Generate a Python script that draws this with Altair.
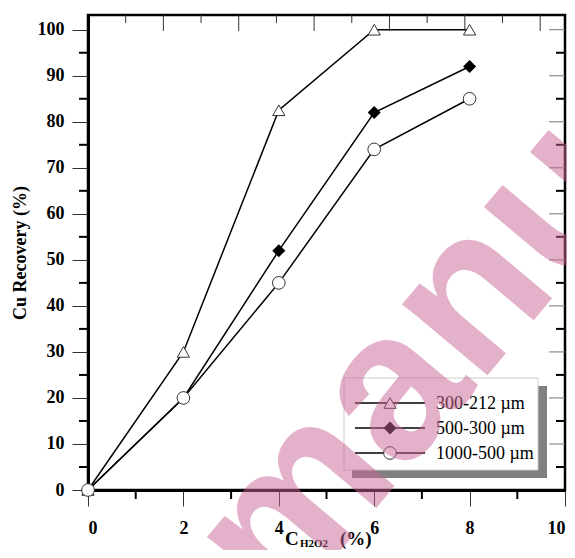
import altair as alt
import pandas as pd

# ---- data ----
x_vals = [0, 2, 4, 6, 8]
rec_300_212 = [0, 30, 82.5, 100, 100]
rec_500_300 = [0, 20, 52, 82, 92]
rec_1000_500 = [0, 20, 45, 74, 85]
series_names = ["300-212 \u00b5m", "500-300 \u00b5m", "1000-500 \u00b5m"]

y_major = [0, 10, 20, 30, 40, 50, 60, 70, 80, 90, 100]
y_minor = [5, 15, 25, 35, 45, 55, 65, 75, 85, 95]
y_right_major = [10, 20, 30, 40, 50, 60, 70, 80, 90, 100]
x_major = [0, 2, 4, 6, 8, 10]
x_minor = [1, 3, 5, 7, 9]
top_short = [0.79, 2.37, 3.95, 5.53, 7.11, 8.69]
top_long = [1.58, 3.16, 4.74, 6.32, 7.90, 9.48]

W, H = 477, 475
SERIF = "Liberation Serif"

rows = []
for name, vals in zip(series_names, [rec_300_212, rec_500_300, rec_1000_500]):
    for xv, yv in zip(x_vals, vals):
        rows.append({"x": xv, "y": yv, "series": name})
df = pd.DataFrame(rows)

xs = alt.Scale(domain=[0, 10], nice=False, zero=False)
ys = alt.Scale(domain=[0, 103.2], nice=False)

x_axis = alt.Axis(values=x_major, tickSize=16, tickColor="#333", tickWidth=1,
                  labelFont=SERIF, labelFontWeight="bold", labelFontSize=18,
                  labelColor="black", labelPadding=13, domainColor="black",
                  domainWidth=3, grid=False, title=None, format="d")
y_axis = alt.Axis(values=y_major, tickSize=16, tickColor="#333", tickWidth=1,
                  labelFont=SERIF, labelFontWeight="bold", labelFontSize=18,
                  labelColor="black", labelPadding=8, domainColor="black",
                  domainWidth=3, grid=False, title="Cu Recovery (%)",
                  titleFont=SERIF, titleFontWeight="bold", titleFontSize=18,
                  titleColor="black", titlePadding=8, format="d")

lines = alt.Chart(df).mark_line(color="black", strokeWidth=1.5).encode(
    x=alt.X("x:Q", scale=xs, axis=x_axis),
    y=alt.Y("y:Q", scale=ys, axis=y_axis),
    detail="series:N",
)

def pts(name, shape, size, filled):
    kw = dict(shape=shape, size=size, opacity=1, strokeWidth=1)
    if filled:
        kw.update(filled=True, color="black")
    else:
        kw.update(filled=True, fill="white", stroke="#333")
    return alt.Chart(df).transform_filter(alt.datum.series == name).mark_point(**kw).encode(
        x=alt.X("x:Q", scale=xs, axis=x_axis),
        y=alt.Y("y:Q", scale=ys, axis=y_axis),
    )

p1 = pts(series_names[0], "triangle-up", 150, False)
p2 = pts(series_names[1], "diamond", 170, True)
p3 = pts(series_names[2], "circle", 160, False)

def yticks(vals, x1, x2, color, width):
    return alt.Chart(pd.DataFrame({"y": vals})).mark_rule(color=color, strokeWidth=width).encode(
        y=alt.Y("y:Q", scale=ys, axis=y_axis), x=alt.value(x1), x2=alt.value(x2))

def xticks(vals, y1, y2, color, width):
    return alt.Chart(pd.DataFrame({"x": vals})).mark_rule(color=color, strokeWidth=width).encode(
        x=alt.X("x:Q", scale=xs, axis=x_axis), y=alt.value(y1), y2=alt.value(y2))

ticks = [
    yticks(y_minor, -9, 0, "black", 2),
    yticks(y_right_major, W - 16, W, "#777", 1),
    yticks(y_minor, W - 9, W, "black", 2),
    xticks(x_minor, H, H + 9, "black", 2),
    xticks(top_short, 0, 8, "#333", 1),
    xticks(top_long, 0, 16, "#333", 1),
]

one = pd.DataFrame({"a": [0]})

# x-axis title with subscript
xt = [
    alt.Chart(one).mark_text(text="C", font=SERIF, fontWeight="bold", fontSize=19,
                             align="left", baseline="alphabetic", color="black").encode(
        x=alt.value(197), y=alt.value(530)),
    alt.Chart(one).mark_text(text="H2O2", font=SERIF, fontWeight="bold", fontSize=11,
                             align="left", baseline="alphabetic", color="black").encode(
        x=alt.value(212), y=alt.value(532)),
    alt.Chart(one).mark_text(text="(%)", font=SERIF, fontWeight="bold", fontSize=19,
                             align="left", baseline="alphabetic", color="black").encode(
        x=alt.value(252), y=alt.value(530)),
]

# legend (custom, with drop shadow)
leg = [
    alt.Chart(one).mark_rect(color="#808080").encode(
        x=alt.value(264), x2=alt.value(459), y=alt.value(371), y2=alt.value(463)),
    alt.Chart(one).mark_rect(fill="white", stroke="#cccccc", strokeWidth=1).encode(
        x=alt.value(256), x2=alt.value(450), y=alt.value(363), y2=alt.value(455)),
]
leg_rows = [388, 413, 438]
leg_shapes = [("triangle-up", 150, False), ("diamond", 170, True), ("circle", 160, False)]
for name, ry, (shp, sz, fl) in zip(series_names, leg_rows, leg_shapes):
    leg.append(alt.Chart(one).mark_rule(color="black", strokeWidth=1.5).encode(
        x=alt.value(267), x2=alt.value(337), y=alt.value(ry)))
    kw = dict(shape=shp, size=sz, opacity=1, strokeWidth=1, filled=True)
    if fl:
        kw.update(color="black")
    else:
        kw.update(fill="white", stroke="#333")
    leg.append(alt.Chart(one).mark_point(**kw).encode(x=alt.value(302), y=alt.value(ry)))
    leg.append(alt.Chart(one).mark_text(text=name, font=SERIF, fontSize=18, align="left",
                                        baseline="middle", color="black").encode(
        x=alt.value(348), y=alt.value(ry + 1)))

# watermark
wm = alt.Chart(one).mark_text(text="manuscript", font="Liberation Sans", fontWeight="bold",
                              fontSize=210, angle=310, align="left", baseline="alphabetic",
                              color="#c96595", opacity=0.5).encode(
    x=alt.value(195), y=alt.value(604))

chart = alt.layer(lines, p1, p2, p3, *ticks, *xt, *leg, wm).properties(
    width=W, height=H,
    background="white",
    autosize=alt.AutoSizeParams(type="none"),
    padding={"left": 80, "top": 7, "right": 2, "bottom": 60},
).configure_view(stroke="black", strokeWidth=2.5)

chart.save("out.html", embed_options={"renderer": "svg", "actions": False})
